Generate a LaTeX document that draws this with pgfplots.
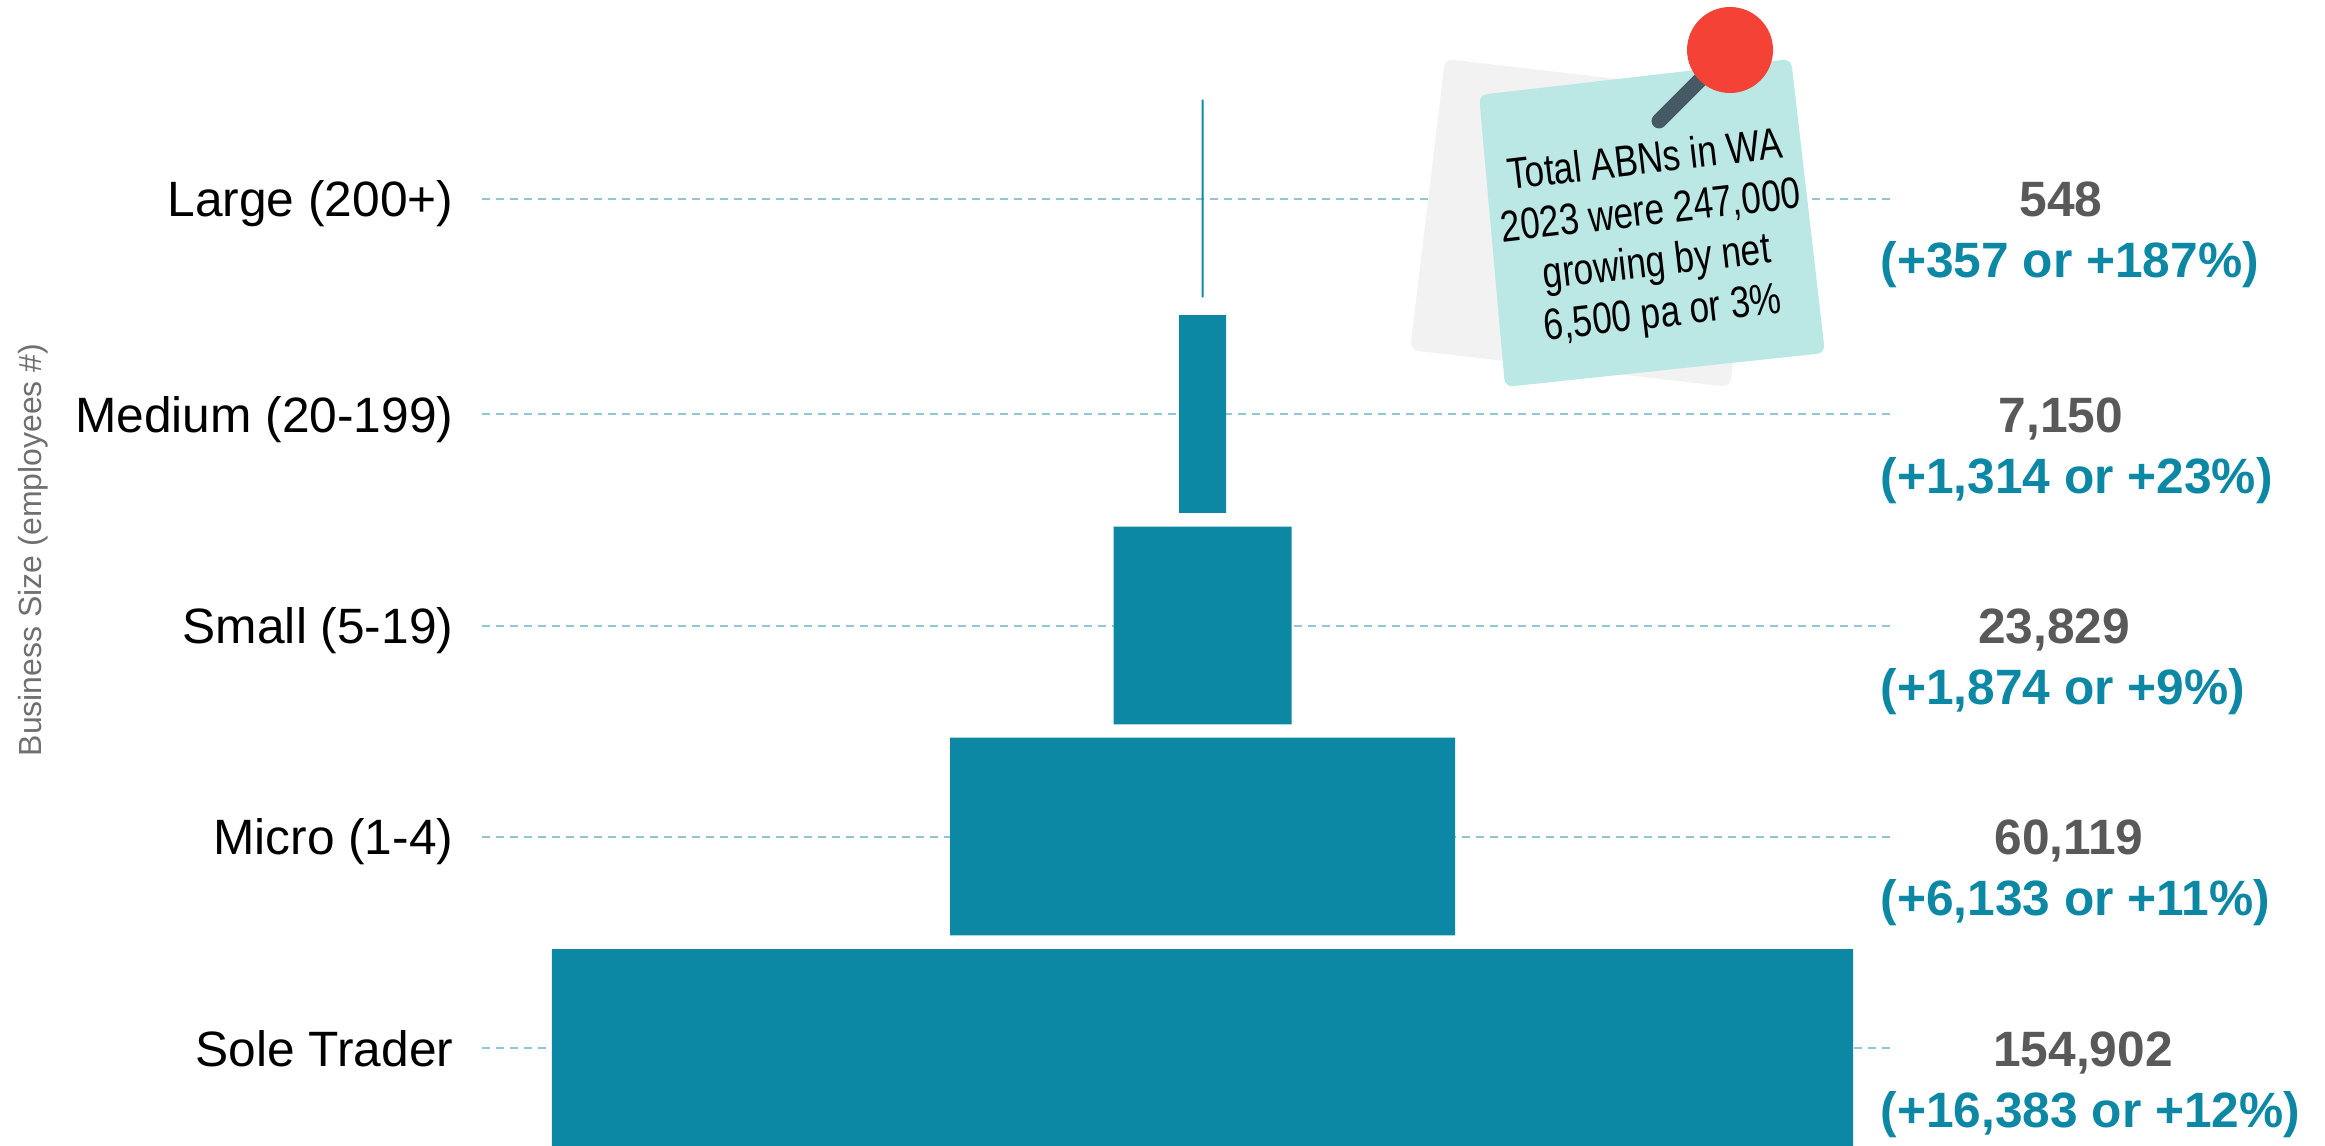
\documentclass[border=0pt]{standalone}
\usepackage{fontspec}
\setmainfont{Liberation Sans}
\usepackage{pgfplots}
\usepackage{pgfplotstable}
\pgfplotsset{compat=1.18}
\definecolor{barteal}{HTML}{0C88A4}
\definecolor{dashteal}{HTML}{92C6D3}
\definecolor{valgrey}{HTML}{595959}
\definecolor{axgrey}{HTML}{707070}
\definecolor{notegrey}{HTML}{F2F2F2}
\definecolor{noteteal}{HTML}{BBE8E4}
\definecolor{pinred}{HTML}{F44336}
\definecolor{pinstem}{HTML}{455A64}

% y = row height, spacer centres the bar, width = bar width in ABNs
\pgfplotstableread{
y     spacer  width
97    65700   154902
308.5 113095  60119
519.5 132560  21190
731   140355  5600
946.5 143036  238
}\funnel

\newcommand{\vallabel}[4]{
  \node[anchor=base,font=\fontsize{14.9}{16}\selectfont\bfseries,text=valgrey,inner sep=0pt] at (axis cs:#2,#1-18) {#3};
  \node[anchor=base west,font=\fontsize{14.9}{16}\selectfont\bfseries,text=barteal,inner sep=0pt] at (axis cs:223810,#1-79) {#4};
}

\begin{document}
\begin{tikzpicture}
\useasboundingbox (0,0) rectangle (697.5pt,343.5pt);
\begin{axis}[
  at={(0,0)},
  anchor=south west,
  scale only axis,
  width=697.5pt,
  height=343.5pt,
  xmin=0, xmax=276786,
  ymin=0, ymax=1145,
  axis line style={draw=none},
  major tick length=0pt,
  xtick=\empty,
  ytick={97,308.5,519.5,731,946.5},
  yticklabels={Sole Trader,Micro (1-4),Small (5-19),Medium (20-199),Large (200+)},
  yticklabel style={anchor=base east,xshift=136.2pt,yshift=-5.4pt,inner sep=0pt,font=\fontsize{14.9}{16}\selectfont,text=black},
  ylabel={Business Size (employees \#)},
  ylabel style={at={(axis description cs:0.0142,0.5197)},anchor=center,font=\fontsize{9.6}{11}\selectfont,text=axgrey,inner sep=0pt},
]
% dashed guides behind the bars
\addplot[stack plots=false,sharp plot,dashteal,line width=0.6pt,dash pattern=on 2.4pt off 1.8pt] coordinates {(57381,97) (225238,97)};
\addplot[stack plots=false,sharp plot,dashteal,line width=0.6pt,dash pattern=on 2.4pt off 1.8pt] coordinates {(57381,308.5) (225238,308.5)};
\addplot[stack plots=false,sharp plot,dashteal,line width=0.6pt,dash pattern=on 2.4pt off 1.8pt] coordinates {(57381,519.5) (225238,519.5)};
\addplot[stack plots=false,sharp plot,dashteal,line width=0.6pt,dash pattern=on 2.4pt off 1.8pt] coordinates {(57381,731) (225238,731)};
\addplot[stack plots=false,sharp plot,dashteal,line width=0.6pt,dash pattern=on 2.4pt off 1.8pt] coordinates {(57381,946.5) (225238,946.5)};
% funnel
\addplot[xbar stacked,bar width=59.3pt,draw=none,fill=none] table[x=spacer,y=y] {\funnel};
\addplot[xbar stacked,bar width=59.3pt,draw=none,fill=barteal] table[x=width,y=y] {\funnel};

\vallabel{946.5}{245357}{548}{(+357 or +187\%)}
\vallabel{731}{245357}{7,150}{(+1,314 or +23\%)}
\vallabel{519.5}{244524}{23,829}{(+1,874 or +9\%)}
\vallabel{308.5}{246310}{60,119}{(+6,133 or +11\%)}
\vallabel{97}{247976}{154,902}{(+16,383 or +12\%)}
\end{axis}
% sticky note, in image pixels
\begin{scope}[shift={(0,343.5pt)},x=0.3pt,y=-0.3pt]
\fill[notegrey,rounded corners=2.4pt] (1445,59) -- (1765,96) -- (1730,387) -- (1410,350) -- cycle;
\fill[noteteal,rounded corners=2.4pt] (1479,95) -- (1791,59) -- (1825,353) -- (1505,387) -- cycle;
\draw[pinstem,line width=4.5pt,line cap=round] (1659,121) -- (1725,55);
\fill[pinred] (1730,50) circle[radius=12.9pt];
\node[rotate=6.6,xscale=0.8,align=center,font=\fontsize{13.2}{15.4}\selectfont,text=black,inner sep=0pt] at (1654,239)
  {Total ABNs in WA\\2023 were 247,000\\growing by net\\6,500 pa or 3\%};
\end{scope}
\end{tikzpicture}
\end{document}
